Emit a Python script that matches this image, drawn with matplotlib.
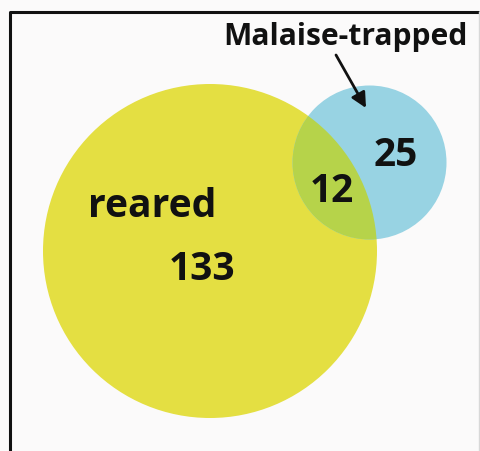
import matplotlib
matplotlib.use("Agg")
import matplotlib.pyplot as plt
from matplotlib.patches import Circle

set_names = ["reared", "Malaise-trapped"]
only_counts = [133, 25]
overlap_count = 12

W, H = 481, 452
fig = plt.figure(figsize=(W / 100, H / 100), dpi=100)
fig.patch.set_facecolor("#fbfafa")
ax = fig.add_axes([0, 0, 1, 1])
ax.set_xlim(0, W)
ax.set_ylim(H, 0)
ax.set_aspect("equal")
ax.axis("off")

# frame
ax.plot([9.5, 9.5, 479], [H + 5, 12.5, 12.5], color="#111111", lw=2.2, solid_capstyle="butt")
ax.plot([479, 479], [12.5, H + 5], color="#d8d8d8", lw=1)

yellow = "#e4df42"
blue = "#98d3e3"
green = "#b6d34a"

c1 = Circle((210, 252), 167, facecolor=yellow, edgecolor="none")
c2 = Circle((369.5, 163.5), 77, facecolor=blue, edgecolor="none")
ax.add_patch(c1)
ax.add_patch(c2)
c3 = Circle((369.5, 163.5), 77, facecolor=green, edgecolor="none")
ax.add_patch(c3)
c3.set_clip_path(c1)

fp = dict(family=["Open Sans", "DejaVu Sans"], weight="bold", color="#111111")
ax.text(88, 217, set_names[0], fontsize=28.2, ha="left", va="baseline", **fp)
ax.text(169, 280, str(only_counts[0]), fontsize=28, ha="left", va="baseline", **fp)
ax.text(332, 202, str(overlap_count), fontsize=28, ha="center", va="baseline", **fp)
ax.text(396, 166, str(only_counts[1]), fontsize=28, ha="center", va="baseline", **fp)
ax.text(345.5, 45, set_names[1], fontsize=21.6, ha="center", va="baseline", **fp)

ax.annotate("", xy=(366, 109), xytext=(336, 56),
            arrowprops=dict(arrowstyle="-|>,head_length=0.9,head_width=0.45",
                            color="#111111", lw=2, shrinkA=0, shrinkB=0))

fig.savefig("out.png", dpi=100, facecolor=fig.get_facecolor())
